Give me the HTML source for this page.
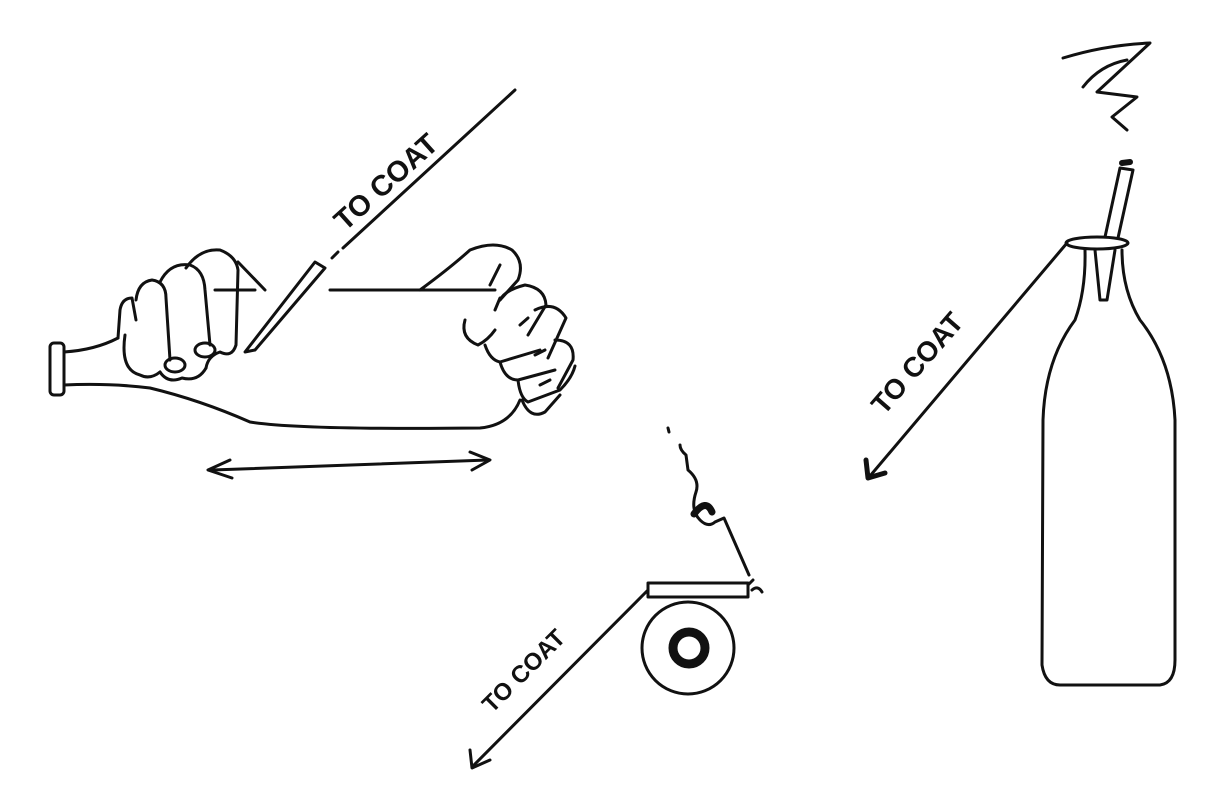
<!DOCTYPE html>
<html><head><meta charset="utf-8"><style>
html,body{margin:0;padding:0;background:#fff;}
svg{display:block}
text{font-family:"Liberation Sans",sans-serif;font-weight:bold;fill:#111}
</style></head><body>
<svg width="1216" height="798" viewBox="0 0 1216 798" xmlns="http://www.w3.org/2000/svg">
<g fill="none" stroke="#111" stroke-width="3" stroke-linecap="round" stroke-linejoin="round">
<!-- LEFT BOTTLE -->
<rect x="50" y="343" width="14" height="52" rx="4"/>
<path d="M64 352 Q95 350 118 338"/>
<path d="M64 385 Q110 383 150 388 Q200 400 250 422 Q300 430 480 428 Q510 425 520 400"/>
<path d="M215 290 L255 290 M330 290 L495 290"/>
<!-- left hand -->
<path d="M118 338 L120 310 Q122 298 132 298 L136 320"/>
<path d="M125 335 Q120 370 140 375 Q150 380 160 372"/>
<path d="M136 300 Q138 282 152 280 Q166 282 166 298 L170 360"/>
<path d="M160 372 Q168 384 182 378 Q198 382 206 368"/>
<path d="M160 282 Q170 262 190 265 Q204 270 205 290 L210 345"/>
<path d="M186 268 Q200 248 220 250 Q236 256 238 270 L236 345 Q232 358 220 352 Q208 356 206 368"/>
<path d="M238 262 L265 290"/>
<ellipse cx="175" cy="365" rx="10" ry="7"/>
<ellipse cx="205" cy="350" rx="10" ry="7"/>
<!-- pencil -->
<path d="M245 352 L315 262 L325 268 L255 350 Z"/>
<path d="M332 258 L338 252"/>
<path d="M343 248 L515 90"/>
<!-- right hand -->
<path d="M420 290 Q450 268 470 250 Q495 240 512 250 Q525 262 518 280 L500 300"/>
<path d="M465 320 Q460 338 478 345 Q488 340 495 330"/>
<path d="M500 300 Q505 290 525 285 Q545 288 546 305 L528 335"/>
<path d="M485 345 Q490 360 500 362 L540 350"/>
<path d="M535 310 Q555 300 566 318 L548 358"/>
<path d="M500 362 Q505 380 518 380 L555 370"/>
<path d="M555 340 Q575 340 573 360 L558 388"/>
<path d="M518 380 Q520 398 528 402 L560 390 Q572 378 575 366"/>
<path d="M522 400 Q530 420 545 412 L560 395"/>
<path d="M490 285 L500 265 M495 310 L500 298 M520 325 L528 318 M535 355 L545 350 M540 385 L550 380"/>
<!-- double arrow -->
<path d="M212 470 L488 460"/>
<path d="M230 460 L208 470 L232 478"/>
<path d="M470 452 L490 460 L472 470"/>
<!-- MIDDLE -->
<rect x="648" y="583" width="100" height="14"/>
<path d="M660 597 L720 597"/>
<circle cx="688" cy="648" r="46"/>
<circle cx="689" cy="648" r="16" stroke-width="9"/>
<path d="M748 585 L753 580 M752 590 Q758 585 762 592"/>
<path d="M648 590 L472 767"/>
<path d="M470 750 L472 768 L490 760"/>
<path d="M749 575 L724 518 L715 522 Q708 528 700 520 Q690 510 696 492 Q700 480 688 470 L686 455 Q680 450 680 445"/>
<path d="M694 514 Q706 498 712 512" stroke-width="7"/>
<path d="M668 428 L669 432"/>
<!-- RIGHT BOTTLE -->
<ellipse cx="1097" cy="243" rx="31" ry="6"/>
<path d="M1085 250 Q1086 290 1075 320 Q1045 360 1043 420 L1042 665 Q1045 685 1060 685 L1160 685 Q1175 683 1175 660 L1175 420 Q1172 360 1140 320 Q1122 290 1122 250"/>
<path d="M1095 250 L1100 300 L1107 300 L1115 250"/>
<path d="M1105 237 L1120 168 L1133 170 L1118 238"/>
<path d="M1122 163 L1130 162" stroke-width="6"/>
<path d="M1063 58 Q1105 45 1150 43 L1097 92 L1137 97 L1112 117 L1127 130"/>
<path d="M1083 87 Q1100 65 1127 60"/>
<path d="M1067 243 L870 476"/>
<path d="M866 460 L868 478 L885 473" stroke-width="5"/>
</g>
<text x="0" y="0" font-size="29" transform="translate(345,232) rotate(-42)">TO COAT</text>
<text x="0" y="0" font-size="24" transform="translate(492,714) rotate(-45)">TO COAT</text>
<text x="0" y="0" font-size="28" transform="translate(884,416) rotate(-49)">TO COAT</text>
</svg>
</body></html>
